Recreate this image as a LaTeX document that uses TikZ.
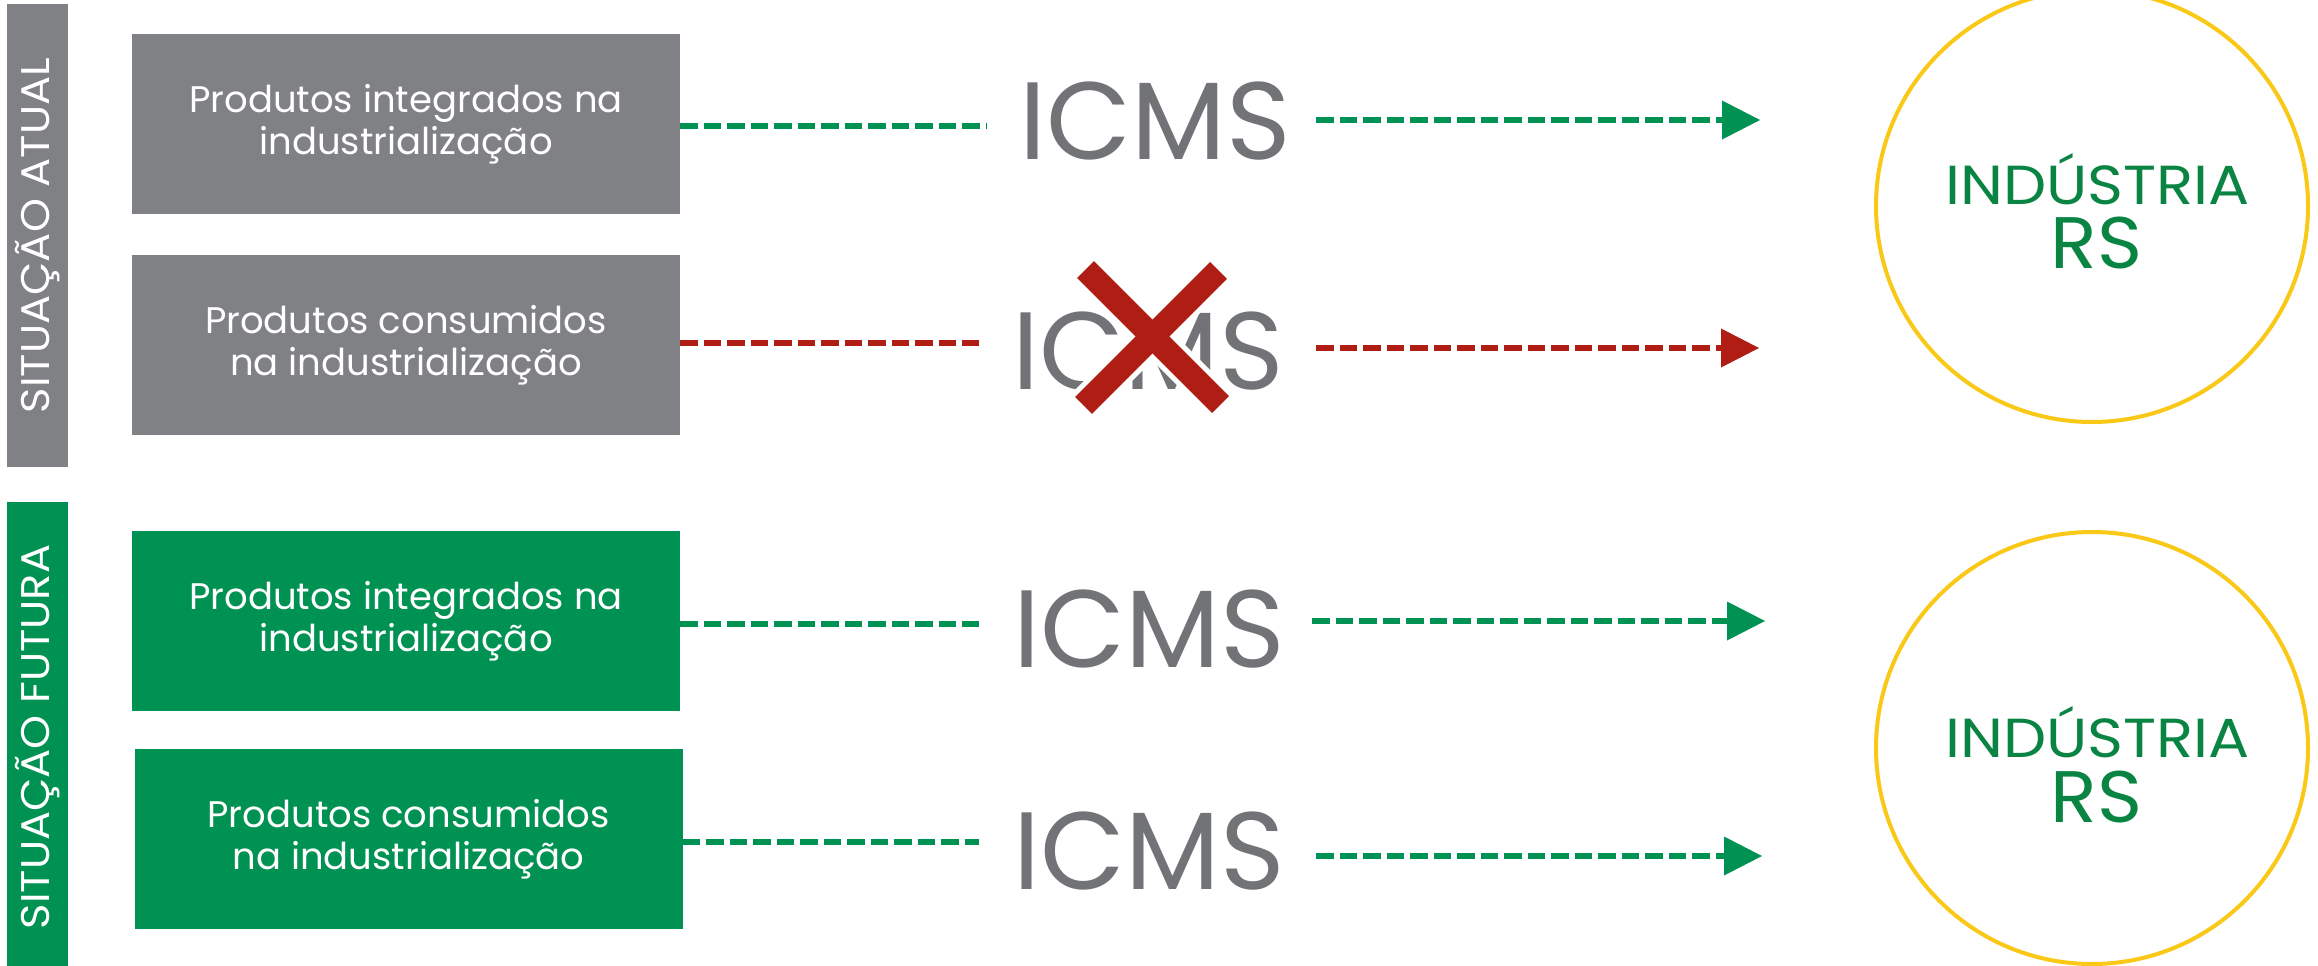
\documentclass[tikz,border=0pt]{standalone}
\usepackage{fontspec}
\setmainfont{Poppins}
\usetikzlibrary{arrows.meta}
\definecolor{boxgray}{HTML}{808184}
\definecolor{boxgreen}{HTML}{009252}
\definecolor{icmsgray}{HTML}{727376}
\definecolor{dgreen}{HTML}{009252}
\definecolor{xred}{HTML}{AF1D14}
\definecolor{ringyellow}{HTML}{FAC917}
\definecolor{indgreen}{HTML}{0A8443}
\tikzset{
  sidebar/.style={rectangle, inner sep=0pt, minimum width=463pt, minimum height=61pt, rotate=90, text=white, font=\fontsize{40}{44}\selectfont},
  pbox/.style={rectangle, inner sep=0pt, minimum width=548pt, minimum height=180pt, text=white, align=center, font=\fontsize{37}{42}\selectfont},
  icms/.style={inner sep=0pt, anchor=base, text=icmsgray, font=\fontsize{110}{110}\selectfont},
  ring/.style={circle, draw=ringyellow, line width=4pt, minimum size=432pt, inner sep=0pt},
  indA/.style={inner sep=0pt, anchor=base, text=indgreen, font=\fontsize{55}{55}\selectfont},
  indB/.style={inner sep=0pt, anchor=base, text=indgreen, font=\fontsize{73}{73}\selectfont},
  gdash/.style={draw=dgreen, line width=6pt, dash pattern=on 17.5pt off 6pt},
  rdash/.style={draw=xred, line width=6pt, dash pattern=on 17.5pt off 6pt},
  garrow/.style={gdash, -{Triangle[length=38pt,width=39pt,line width=0pt]}},
  rarrow/.style={rdash, -{Triangle[length=38pt,width=39pt,line width=0pt]}},
  xwhite/.style={draw=white, line width=34pt},
  xstroke/.style={draw=xred, line width=24pt}
}
\begin{document}
\begin{tikzpicture}[x=1pt,y=-1pt]
\useasboundingbox (0,0) rectangle (2318,966);
\fill[white] (0,0) rectangle (2318,966);

% side bars
\node[sidebar, fill=boxgray] (sa) at (37.5,235.5) {\scalebox{1.08}[1]{SITUAÇÃO ATUAL}};
\node[sidebar, fill=boxgreen, minimum width=470pt] (sf) at (37.5,737) {\scalebox{1.08}[1]{SITUAÇÃO FUTURA}};

% product boxes
\node[pbox, fill=boxgray] (p1) at (406,124) {Produtos integrados na\\industrialização};
\node[pbox, fill=boxgray] (p2) at (406,345) {Produtos consumidos\\na industrialização};
\node[pbox, fill=boxgreen] (p3) at (406,621) {Produtos integrados na\\industrialização};
\node[pbox, fill=boxgreen] (p4) at (408.5,839) {Produtos consumidos\\na industrialização};

% ICMS labels
\node[icms] (i1) at (1155,159) {ICMS};
\node[icms] (i2) at (1148.5,389) {ICMS};
\node[icms] (i3) at (1149,667) {ICMS};
\node[icms] (i4) at (1149,889) {ICMS};

% industry circles
\node[ring] (c1) at (2092,206) {};
\node[indA] (t1a) at (2097.5,204) {\scalebox{1.11}[1]{INDÚSTRIA}};
\node[indB] (t1b) at (2096.5,268) {\scalebox{1.05}[1]{RS}};
\node[ring] (c2) at (2092,748) {};
\node[indA] (t2a) at (2097.5,757) {\scalebox{1.11}[1]{INDÚSTRIA}};
\node[indB] (t2b) at (2096.5,822) {\scalebox{1.05}[1]{RS}};

% dash end points
\coordinate (l1) at (986,126);
\coordinate (l2) at (979,343);
\coordinate (l3) at (979,624);
\coordinate (l4) at (979,842);
\coordinate (s1) at (1316,120);
\coordinate (e1) at (1760,120);
\coordinate (s2) at (1316,348);
\coordinate (e2) at (1759,348);
\coordinate (s3) at (1312,621);
\coordinate (e3) at (1765,621);
\coordinate (s4) at (1316,856);
\coordinate (e4) at (1762,856);

% left dashed connectors
\draw[gdash] (p1.east |- l1) -- (l1);
\draw[rdash] (p2.east |- l2) -- (l2);
\draw[gdash] (p3.east |- l3) -- (l3);
\draw[gdash] (p4.east |- l4) -- (l4);

% right arrows
\draw[garrow] (s1) -- (e1);
\draw[rarrow] (s2) -- (e2);
\draw[garrow] (s3) -- (e3);
\draw[garrow] (s4) -- (e4);

% red cross over ICMS
\draw[xwhite] (1085.5,269.5) -- (1220.5,404.5);
\draw[xwhite] (1218.5,270.5) -- (1083.5,405.5);
\draw[xstroke] (1085.5,269.5) -- (1220.5,404.5);
\draw[xstroke] (1218.5,270.5) -- (1083.5,405.5);
\end{tikzpicture}
\end{document}
